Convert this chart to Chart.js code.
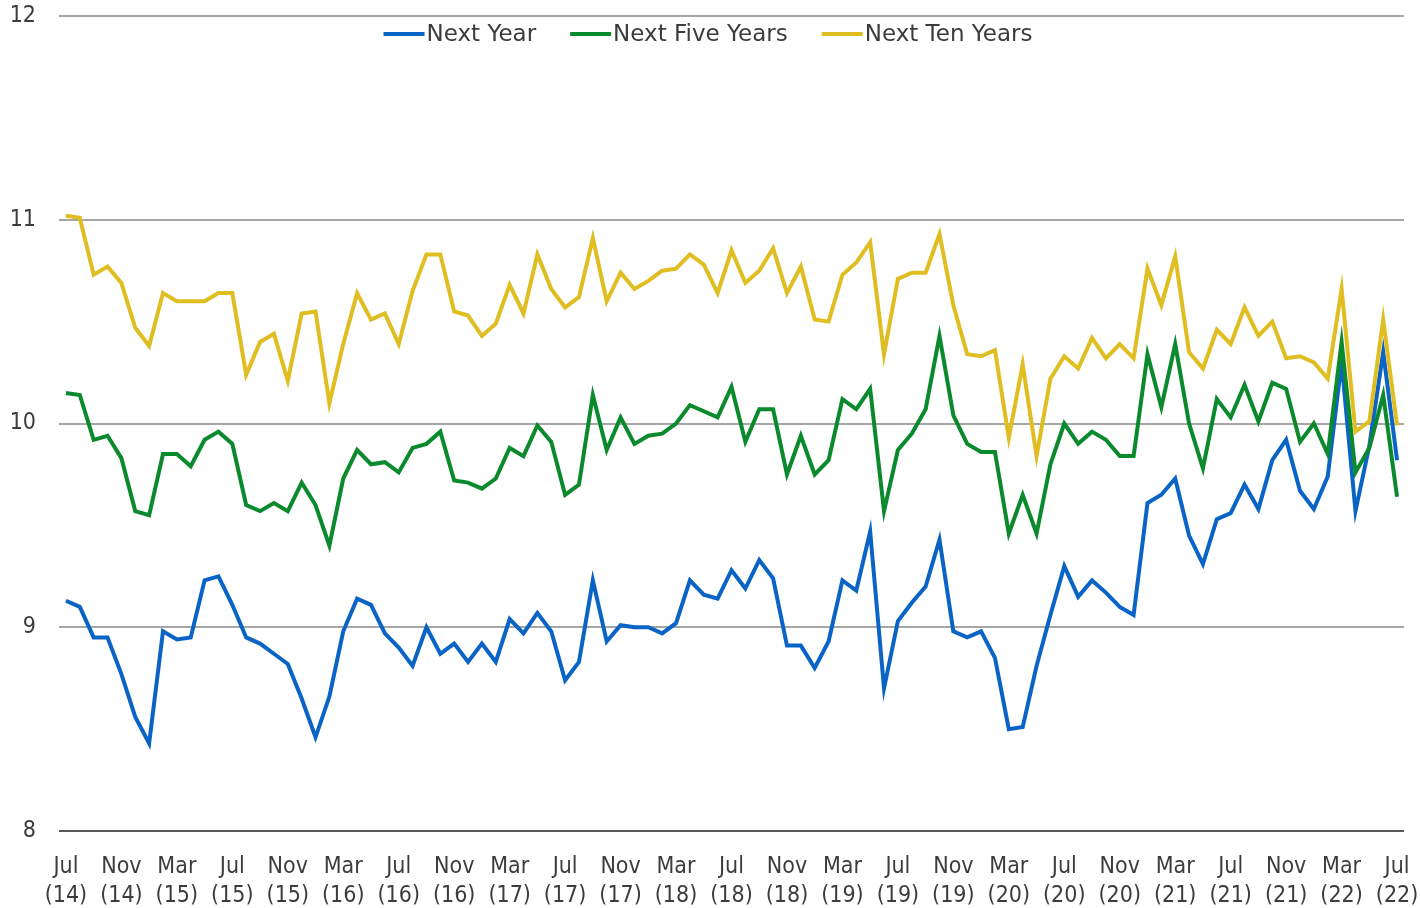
<!DOCTYPE html>
<html>
<head>
<meta charset="utf-8">
<script src="https://cdn.jsdelivr.net/npm/chart.js@4.4.0/dist/chart.umd.min.js"></script>
<style>
html,body{margin:0;padding:0;background:#ffffff;}
#wrap{width:1420px;height:908px;position:relative;}
</style>
</head>
<body>
<div id="wrap"><canvas id="c" width="1420" height="908"></canvas></div>
<script>
const categories = [
 "Jul 14","Aug 14","Sep 14","Oct 14","Nov 14","Dec 14",
 "Jan 15","Feb 15","Mar 15","Apr 15","May 15","Jun 15","Jul 15","Aug 15","Sep 15","Oct 15","Nov 15","Dec 15",
 "Jan 16","Feb 16","Mar 16","Apr 16","May 16","Jun 16","Jul 16","Aug 16","Sep 16","Oct 16","Nov 16","Dec 16",
 "Jan 17","Feb 17","Mar 17","Apr 17","May 17","Jun 17","Jul 17","Aug 17","Sep 17","Oct 17","Nov 17","Dec 17",
 "Jan 18","Feb 18","Mar 18","Apr 18","May 18","Jun 18","Jul 18","Aug 18","Sep 18","Oct 18","Nov 18","Dec 18",
 "Jan 19","Feb 19","Mar 19","Apr 19","May 19","Jun 19","Jul 19","Aug 19","Sep 19","Oct 19","Nov 19","Dec 19",
 "Jan 20","Feb 20","Mar 20","Apr 20","May 20","Jun 20","Jul 20","Aug 20","Sep 20","Oct 20","Nov 20","Dec 20",
 "Jan 21","Feb 21","Mar 21","Apr 21","May 21","Jun 21","Jul 21","Aug 21","Sep 21","Oct 21","Nov 21","Dec 21",
 "Jan 22","Feb 22","Mar 22","Apr 22","May 22","Jun 22","Jul 22"
];

const nextYear = [
 9.13,9.10,8.95,8.95,8.77,8.56,8.43,8.98,8.94,8.95,9.23,9.25,9.11,8.95,8.92,8.87,8.82,8.65,
 8.46,8.66,8.98,9.14,9.11,8.97,8.90,8.81,9.00,8.87,8.92,8.83,8.92,8.83,9.04,8.97,9.07,8.98,
 8.74,8.83,9.23,8.93,9.01,9.00,9.00,8.97,9.02,9.23,9.16,9.14,9.28,9.19,9.33,9.24,8.91,8.91,
 8.80,8.93,9.23,9.18,9.47,8.70,9.03,9.12,9.20,9.43,8.98,8.95,8.98,8.85,8.50,8.51,8.81,9.06,
 9.30,9.15,9.23,9.17,9.10,9.06,9.61,9.65,9.73,9.45,9.31,9.53,9.56,9.70,9.58,9.82,9.92,9.67,
 9.58,9.74,10.30,9.57,9.89,10.35,9.82
];

const nextFiveYears = [
 10.15,10.14,9.92,9.94,9.83,9.57,9.55,9.85,9.85,9.79,9.92,9.96,9.90,9.60,9.57,9.61,9.57,9.71,
 9.60,9.40,9.73,9.87,9.80,9.81,9.76,9.88,9.90,9.96,9.72,9.71,9.68,9.73,9.88,9.84,9.99,9.91,
 9.65,9.70,10.14,9.87,10.03,9.90,9.94,9.95,10.00,10.09,10.06,10.03,10.18,9.91,10.07,10.07,9.75,9.94,
 9.75,9.82,10.12,10.07,10.17,9.57,9.87,9.95,10.07,10.43,10.04,9.90,9.86,9.86,9.46,9.65,9.46,9.80,
 10.00,9.90,9.96,9.92,9.84,9.84,10.34,10.08,10.39,10.00,9.78,10.12,10.03,10.19,10.01,10.20,10.17,9.91,
 10.00,9.85,10.40,9.76,9.88,10.14,9.64
];

const nextTenYears = [
 11.02,11.01,10.73,10.77,10.69,10.47,10.38,10.64,10.60,10.60,10.60,10.64,10.64,10.24,10.40,10.44,10.21,10.54,
 10.55,10.10,10.39,10.64,10.51,10.54,10.39,10.65,10.83,10.83,10.55,10.53,10.43,10.49,10.68,10.54,10.83,10.66,
 10.57,10.62,10.91,10.60,10.74,10.66,10.70,10.75,10.76,10.83,10.78,10.64,10.85,10.69,10.75,10.86,10.64,10.77,
 10.51,10.50,10.73,10.79,10.89,10.34,10.71,10.74,10.74,10.93,10.58,10.34,10.33,10.36,9.93,10.29,9.84,10.22,
 10.33,10.27,10.42,10.32,10.39,10.32,10.76,10.58,10.82,10.35,10.27,10.46,10.39,10.57,10.43,10.50,10.32,10.33,
 10.30,10.22,10.66,9.96,10.01,10.51,9.99
];

const seriesNames = ["Next Year","Next Five Years","Next Ten Years"];
const yTicks = [8, 9, 10, 11, 12];

const BLUE = "#0a64c6";
const GREEN = "#0b8a2d";
const YELLOW = "#e0bd20";
const TEXT = "#3c3c3c";
const FONT_FAMILY = '"DejaVu Sans Condensed", "DejaVu Sans", sans-serif';
const LEGEND_FONT = '23px "DejaVu Sans", sans-serif';

const legendPlugin = {
  id: "customLegend",
  afterDraw(chart) {
    const c = chart.ctx;
    c.save();
    c.font = LEGEND_FONT;
    const items = chart.data.datasets.map(d => ({t: d.label, col: d.borderColor, w: c.measureText(d.label).width}));
    const sw = 41, g = 2, sep = 34;
    const total = items.reduce((a, it) => a + sw + g + it.w, 0) + sep * (items.length - 1);
    let x = chart.width / 2 - 2 - total / 2;
    const y = 34;
    items.forEach(it => {
      c.strokeStyle = it.col;
      c.lineWidth = 4;
      c.beginPath();
      c.moveTo(x, y);
      c.lineTo(x + sw, y);
      c.stroke();
      x += sw + g;
      c.fillStyle = TEXT;
      c.textBaseline = "middle";
      c.textAlign = "left";
      c.fillText(it.t, x, y + 1);
      x += it.w + sep;
    });
    c.restore();
  }
};

new Chart(document.getElementById("c"), {
  type: "line",
  data: {
    labels: categories,
    datasets: [
      {label: seriesNames[0], data: nextYear, borderColor: BLUE, backgroundColor: BLUE, order: 3},
      {label: seriesNames[1], data: nextFiveYears, borderColor: GREEN, backgroundColor: GREEN, order: 2},
      {label: seriesNames[2], data: nextTenYears, borderColor: YELLOW, backgroundColor: YELLOW, order: 1}
    ]
  },
  options: {
    responsive: false,
    animation: false,
    devicePixelRatio: 1,
    layout: {padding: {top: 16, right: 16, left: 0, bottom: 0}},
    elements: {
      point: {radius: 0, hoverRadius: 0},
      line: {borderWidth: 4, tension: 0, fill: false}
    },
    plugins: {legend: {display: false}, tooltip: {enabled: false}},
    scales: {
      x: {
        type: "category",
        offset: true,
        grid: {display: false, drawTicks: false},
        border: {display: false},
        ticks: {
          autoSkip: false, maxRotation: 0, minRotation: 0, padding: 22,
          color: TEXT,
          font: {family: FONT_FAMILY, size: 23, lineHeight: 1.26},
          callback: function(v, i) {
            if (i % 4 !== 0) return "";
            const parts = categories[i].split(" ");
            return [parts[0], "(" + parts[1] + ")"];
          }
        },
        afterFit(s) { s.height = 77; s.paddingLeft = 0; s.paddingRight = 0; }
      },
      y: {
        min: 8, max: 12,
        afterBuildTicks(s) { s.ticks = yTicks.map(v => ({value: v})); },
        ticks: {
          stepSize: 1, padding: 23, color: TEXT,
          font: {family: FONT_FAMILY, size: 23}
        },
        grid: {
          drawTicks: false,
          lineWidth: 2,
          color: (c) => (c.tick && c.tick.value === 8) ? "#595959" : "#a6a6a6"
        },
        border: {display: false},
        afterFit(s) { s.width = 59; s.paddingTop = 0; s.paddingBottom = 0; }
      }
    }
  },
  plugins: [legendPlugin]
});
</script>
</body>
</html>
